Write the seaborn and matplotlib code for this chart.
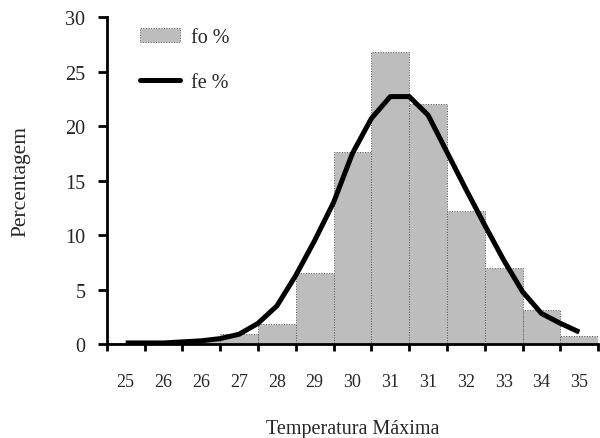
import numpy as np
import pandas as pd
import seaborn as sns
import matplotlib.pyplot as plt
from matplotlib.patches import Patch
from matplotlib.lines import Line2D

# class labels (as printed under each bar)
classes = ['25', '26', '26', '27', '28', '29', '30', '31', '31', '32', '33', '34', '35']
# observed frequency (%)
fo = [0.1, 0.1, 0.4, 0.9, 1.8, 6.5, 17.6, 26.8, 22.0, 12.2, 7.0, 3.1, 0.7]
# expected frequency curve (%), read at bar centres and bar edges
fe_pos = [0, 0.5, 1, 1.5, 2, 2.5, 3, 3.5, 4, 4.5, 5, 5.5, 6, 6.5, 7, 7.5,
          8, 8.5, 9, 9.5, 10, 10.5, 11, 11.5, 12]
fe = [0.1, 0.1, 0.1, 0.2, 0.3, 0.5, 0.9, 1.9, 3.5, 6.3, 9.5, 13.0, 17.5, 20.7, 22.7, 22.7,
      21.0, 17.6, 14.2, 10.9, 7.7, 4.8, 2.8, 1.9, 1.1]

bars = pd.DataFrame({'pos': range(len(classes)), 'fo': fo})
curve = pd.DataFrame({'pos': fe_pos, 'fe': fe})

sns.set_style('white')
plt.rcParams['font.family'] = ['Liberation Serif', 'DejaVu Serif']

fig = plt.figure(figsize=(6, 4.39), dpi=100)
ax = fig.add_axes([0.178, 0.214, 0.819, 0.745])

sns.barplot(data=bars, x='pos', y='fo', color='#bdbdbd', saturation=1, width=1.0,
            edgecolor='#555555', linewidth=0.7, linestyle=':', ax=ax, native_scale=True)
sns.lineplot(data=curve, x='pos', y='fe', color='black', linewidth=3.6, ax=ax)
for ln in ax.lines:
    ln.set_solid_joinstyle('round')
    ln.set_solid_capstyle('butt')

ax.set_xlim(-0.5, len(classes) - 0.5)
ax.set_ylim(0, 30)
ax.set_yticks(range(0, 31, 5))
ax.set_xticks(np.arange(-0.5, len(classes), 1.0))
ax.set_xticklabels([])
ax.set_xticks(range(len(classes)), minor=True)
ax.set_xticklabels(classes, minor=True)
ax.tick_params(axis='x', which='minor', bottom=False, length=0, pad=21, labelsize=13)
ax.tick_params(axis='x', which='major', bottom=True, length=5, width=2, direction='out', color='black')
ax.tick_params(axis='y', left=True, length=6.5, width=2, direction='out', color='black',
               labelsize=14.5, pad=9)

for s in ['top', 'right']:
    ax.spines[s].set_visible(False)
for s in ['left', 'bottom']:
    ax.spines[s].set_linewidth(2)
    ax.spines[s].set_color('black')

ax.set_xlabel('Temperatura Máxima', fontsize=14.5)
ax.set_ylabel('Percentagem', fontsize=15.5)
ax.xaxis.set_label_coords(0.5, -0.23)
ax.yaxis.set_label_coords(-0.155, 0.5)

handles = [Patch(facecolor='#bdbdbd', edgecolor='#555555', linestyle=':', linewidth=0.7),
           Line2D([0], [0], color='black', linewidth=3.6)]
fig.legend(handles, ['fo %', 'fe %'], loc='upper left', bbox_to_anchor=(140 / 600, 1 - 29 / 439),
           frameon=False, fontsize=14.5, handlelength=2.0, handleheight=0.65,
           labelspacing=1.3, handletextpad=0.55, borderpad=0, borderaxespad=0)

fig.savefig('out.png', dpi=100)
